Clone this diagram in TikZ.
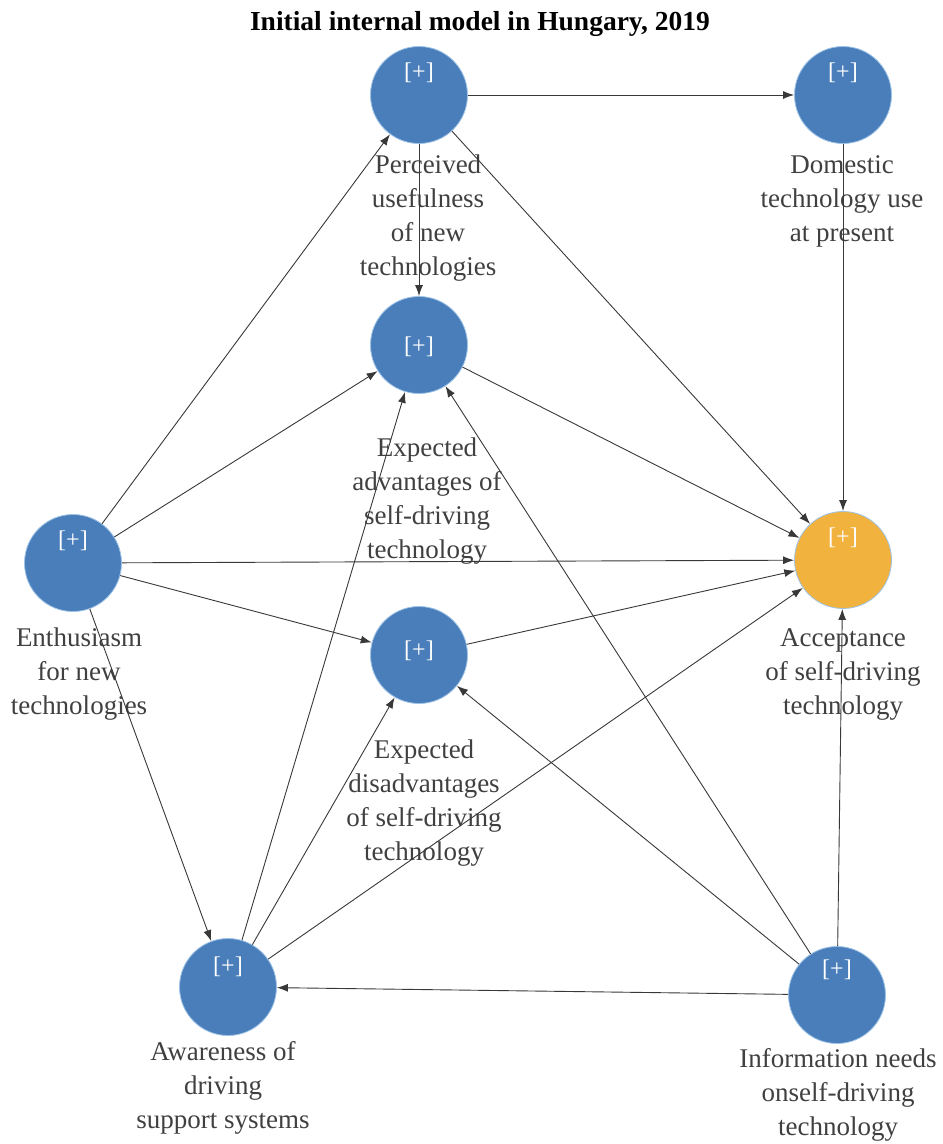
\documentclass[tikz,border=0pt]{standalone}
\usepackage{fontspec}
\setmainfont{Liberation Serif}
\usepackage{xcolor}
\usepackage{tikz}
\usetikzlibrary{arrows.meta, positioning}

\definecolor{lvblue}{RGB}{74,126,187}
\definecolor{lvedge}{RGB}{157,195,230}
\definecolor{lvorange}{RGB}{242,178,62}
\definecolor{lvtext}{RGB}{64,64,64}

\tikzset{
	latent/.style={circle, draw=lvedge, line width=0.8pt, fill=lvblue, minimum size=97pt, inner sep=0pt},
	plusmark/.style={text=white, font=\fontsize{24pt}{26pt}\selectfont},
	lbl/.style={text=lvtext, align=center, font=\fontsize{27pt}{34pt}\selectfont},
	path/.style={draw, -{Latex[length=11pt, width=8pt]}, line width=0.9pt, color=black!78}
}

\begin{document}
\begin{tikzpicture}
		\useasboundingbox (0pt, 0pt) rectangle (943pt, -1144pt);
		\node [font=\fontsize{27.5pt}{30pt}\selectfont\bfseries] (title) at (480pt, -24pt) {Initial internal model in Hungary, 2019};
		% text under the circles
		\node [lbl] (perclbl) at (428pt, -218pt) {Perceived\\usefulness\\of new\\technologies};
		\node [lbl] (domlbl) at (842pt, -201pt) {Domestic\\technology use\\at present};
		\node [lbl] (advlbl) at (427pt, -501pt) {Expected\\advantages of\\self-driving\\technology};
		\node [lbl] (enthlbl) at (79pt, -674pt) {Enthusiasm\\for new\\technologies};
		\node [lbl] (acclbl) at (843pt, -674pt) {Acceptance\\of self-driving\\technology};
		\node [lbl] (disadvlbl) at (424pt, -803pt) {Expected\\disadvantages\\of self-driving\\technology};
		\node [lbl] (awarlbl) at (223pt, -1088pt) {Awareness of\\driving\\support systems};
		\node [lbl] (infolbl) at (838pt, -1095pt) {Information needs\\onself-driving\\technology};
		% circles
		\node [latent] (perc) at (419pt, -95pt) {};
		\node [latent] (dom) at (843pt, -95pt) {};
		\node [latent] (adv) at (419pt, -345pt) {};
		\node [latent] (enth) at (73pt, -563pt) {};
		\node [latent, fill=lvorange] (acc) at (843pt, -560pt) {};
		\node [latent] (disadv) at (419pt, -655pt) {};
		\node [latent] (awar) at (228pt, -987pt) {};
		\node [latent] (info) at (837pt, -995pt) {};
		\node [plusmark] (percplus) at (419pt, -73pt) {[+]};
		\node [plusmark] (domplus) at (843pt, -73pt) {[+]};
		\node [plusmark] (advplus) at (419pt, -347pt) {[+]};
		\node [plusmark] (enthplus) at (73pt, -541pt) {[+]};
		\node [plusmark] (accplus) at (843pt, -538pt) {[+]};
		\node [plusmark] (disadvplus) at (419pt, -651pt) {[+]};
		\node [plusmark] (awarplus) at (228pt, -967pt) {[+]};
		\node [plusmark] (infoplus) at (837pt, -970pt) {[+]};
		% paths
		\path [path] (perc) -- (dom);
		\path [path] (perc) -- (adv);
		\path [path] (perc) -- (acc);
		\path [path] (dom) -- (acc);
		\path [path] (enth) -- (perc);
		\path [path] (enth) -- (adv);
		\path [path] (enth) -- (acc);
		\path [path] (enth) -- (disadv);
		\path [path] (enth) -- (awar);
		\path [path] (adv) -- (acc);
		\path [path] (disadv) -- (acc);
		\path [path] (awar) -- (adv);
		\path [path] (awar) -- (disadv);
		\path [path] (awar) -- (acc);
		\path [path] (info) -- (acc);
		\path [path] (info) -- (adv);
		\path [path] (info) -- (disadv);
		\path [path] (info) -- (awar);
	\end{tikzpicture}
\end{document}
